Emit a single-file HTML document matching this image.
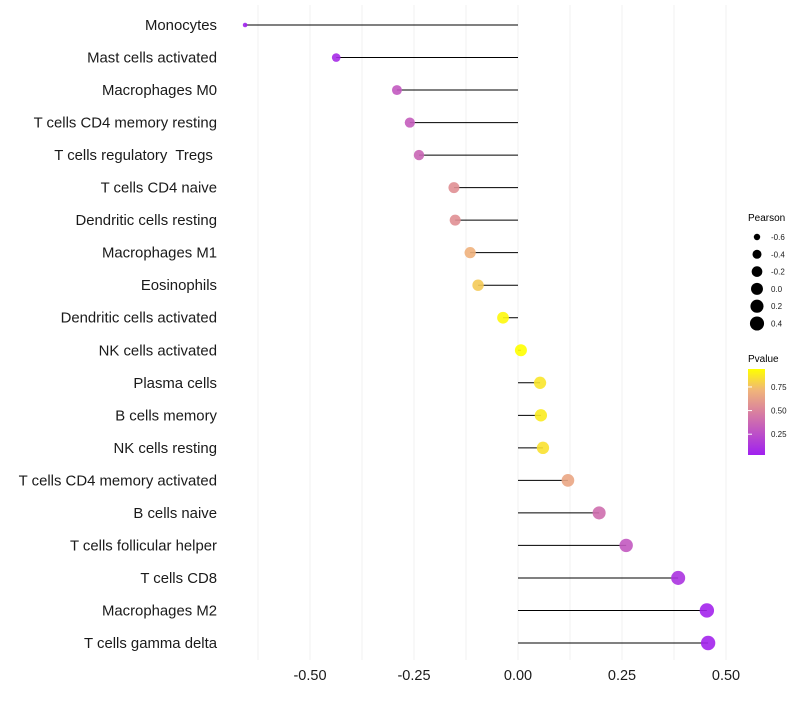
<!DOCTYPE html>
<html><head><meta charset="utf-8"><style>
body{margin:0;background:#fff;font-family:"Liberation Sans",sans-serif}
text{white-space:pre}
</style></head><body>
<svg id="chart" width="800" height="700" xmlns="http://www.w3.org/2000/svg">
<defs><linearGradient id="pg" x1="0" y1="1" x2="0" y2="0">
<stop offset="0" stop-color="#a020f0"/><stop offset="0.5" stop-color="#d9809f"/><stop offset="0.75" stop-color="#f0b47a"/><stop offset="1" stop-color="#ffff00"/></linearGradient></defs>
<g id="grid"></g>
<g id="marks"></g>
<g id="ylabels"></g>
<g id="xlabels"></g>
<g>
<text x="748" y="221" font-size="10" fill="#000">Pearson</text>
<g id="sizeLeg"></g>
</g>
<g>
<text x="748" y="362" font-size="10" fill="#000">Pvalue</text>
<rect x="748" y="369" width="17" height="86" fill="url(#pg)"/>
<g id="colLeg"></g>
</g>
</svg>
<script>
const categories=["Monocytes","Mast cells activated","Macrophages M0","T cells CD4 memory resting","T cells regulatory  Tregs ","T cells CD4 naive","Dendritic cells resting","Macrophages M1","Eosinophils","Dendritic cells activated","NK cells activated","Plasma cells","B cells memory","NK cells resting","T cells CD4 memory activated","B cells naive","T cells follicular helper","T cells CD8","Macrophages M2","T cells gamma delta"];
const pearson=[-0.656,-0.437,-0.291,-0.26,-0.238,-0.154,-0.151,-0.115,-0.096,-0.036,0.007,0.053,0.055,0.06,0.12,0.195,0.26,0.385,0.454,0.457];
const pvalue=[0.04,0.08,0.3,0.32,0.36,0.55,0.55,0.7,0.78,0.92,0.97,0.86,0.88,0.85,0.65,0.4,0.3,0.12,0.05,0.05];
const xTicks=[-0.5,-0.25,0,0.25,0.5];
const xTickLabels=["-0.50","-0.25","0.00","0.25","0.50"];
const sizeLegVals=[-0.6,-0.4,-0.2,0.0,0.2,0.4];
const colLegVals=[0.25,0.5,0.75];
const NS="http://www.w3.org/2000/svg";
const X=v=>518+v*416;
const Y=i=>25+i*(618/19);
const R=v=>2+5.2*Math.sqrt(Math.max(0,(v+0.66)/1.12));
const PY=p=>455-(p-0.03)/(0.91)*86;
function mk(t,a,parent){const e=document.createElementNS(NS,t);for(const k in a)e.setAttribute(k,a[k]);document.getElementById(parent).appendChild(e);return e;}
function lerp(a,b,t){return a.map((x,i)=>Math.round(x+(b[i]-x)*t));}
function color(p){const st=[[0,[160,32,240]],[0.5,[217,128,159]],[0.75,[240,180,122]],[1,[255,255,0]]];
 let t=Math.max(0,Math.min(1,(p-0.03)/0.91));
 for(let i=0;i<st.length-1;i++){if(t<=st[i+1][0]){const c=lerp(st[i][1],st[i+1][1],(t-st[i][0])/(st[i+1][0]-st[i][0]));return`rgb(${c})`;}}
 return "rgb(255,255,0)";}
for(let v=-0.625;v<=0.51;v+=0.125){
 const g=mk("line",{x1:X(v),x2:X(v),y1:5,y2:660,stroke:"#f0f0f0","stroke-width":1},"grid");
 
 
}
categories.forEach((c,i)=>{
 const l=mk("line",{x1:X(0),x2:X(pearson[i]),y1:Y(i),y2:Y(i),stroke:"#000","stroke-width":1},"marks");
 
 
 const p=mk("circle",{cx:X(pearson[i]),cy:Y(i),r:R(pearson[i]),fill:color(pvalue[i]),"fill-opacity":0.9},"marks");
 
 
 const t=mk("text",{x:217,y:Y(i)+5,"text-anchor":"end","font-size":14.9,fill:"#1a1a1a"},"ylabels");
 t.textContent=c;
 
 
});
xTicks.forEach((v,i)=>{
 const t=mk("text",{x:X(v),y:680,"text-anchor":"middle","font-size":14.5,fill:"#1a1a1a"},"xlabels");
 t.textContent=xTickLabels[i];
 
 
});
sizeLegVals.forEach((v,i)=>{
 const y=237+i*17.3;
 const c=mk("circle",{cx:757,cy:y,r:R(v),fill:"#000"},"sizeLeg");
 
 
 const t=mk("text",{x:771,y:y+3,"font-size":8,fill:"#1a1a1a"},"sizeLeg");
 t.textContent=v.toFixed(1);
 
 
});
colLegVals.forEach(v=>{
 const y=PY(v);
 const tk=mk("line",{x1:748,x2:752,y1:y,y2:y,stroke:"#fff","stroke-width":1},"colLeg");
 
 
 const t=mk("text",{x:771,y:y+3,"font-size":8,fill:"#1a1a1a"},"colLeg");
 t.textContent=v.toFixed(2);
 
 
});
</script>
</body></html>
